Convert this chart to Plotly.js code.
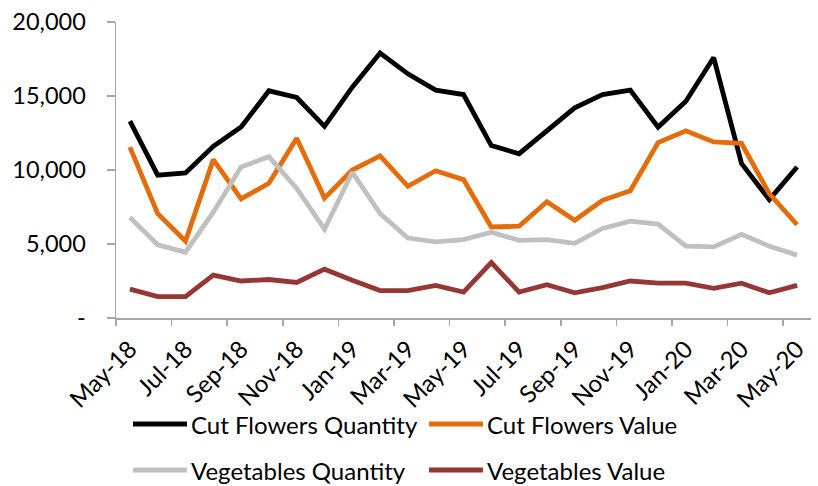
<!DOCTYPE html>
<html>
<head>
<meta charset="utf-8">
<script src="https://cdn.plot.ly/plotly-3.0.1.min.js"></script>
<style>html,body{margin:0;padding:0;background:#fff}#chart{width:818px;height:486px}</style>
</head>
<body>
<div id="chart"></div>
<script>
const months = ["May-18","Jun-18","Jul-18","Aug-18","Sep-18","Oct-18","Nov-18","Dec-18",
  "Jan-19","Feb-19","Mar-19","Apr-19","May-19","Jun-19","Jul-19","Aug-19","Sep-19","Oct-19",
  "Nov-19","Dec-19","Jan-20","Feb-20","Mar-20","Apr-20","May-20"];
const cutFlowersQuantity = [13300,9650,9800,11600,12900,15350,14900,12950,15600,17900,16500,15400,
  15100,11650,11100,12700,14200,15100,15400,12900,14650,17600,10450,8000,10200];
const cutFlowersValue = [11550,7050,5200,10700,8050,9100,12150,8100,10000,10950,8900,9950,
  9350,6150,6200,7850,6600,7950,8600,11850,12650,11900,11800,8400,6300];
const vegetablesQuantity = [6800,4950,4450,7150,10200,10900,8750,6000,9850,7050,5400,5150,
  5300,5800,5250,5300,5050,6050,6550,6350,4850,4800,5650,4850,4250];
const vegetablesValue = [1950,1450,1450,2900,2500,2600,2400,3300,2550,1850,1850,2200,
  1750,3750,1750,2250,1700,2050,2500,2350,2350,2000,2350,1700,2200];
const yTickVals = [0,5000,10000,15000,20000];
const yTickText = ["-","5,000","10,000","15,000","20,000"];
const seriesNames = ["Cut Flowers Quantity","Cut Flowers Value","Vegetables Quantity","Vegetables Value"];
const seriesColors = ["#000000","#E46C0A","#C0C0C0","#953735"];

const FONT = "Lato, 'Open Sans', sans-serif";
const allSeries = [cutFlowersQuantity, cutFlowersValue, vegetablesQuantity, vegetablesValue];
const traces = allSeries.map((ys, i) => ({
  type: "scatter", mode: "lines", x: months, y: ys, name: seriesNames[i],
  line: {color: seriesColors[i], width: 4.8}, showlegend: false, hoverinfo: "skip"
}));

// custom legend (positions in paper coords)
const L = 116, W = 695, T = 22, H = 296;
const px = v => (v - L) / W;
const py = v => (T + H - v) / H;
const legendPos = [[133, 424], [429, 424], [133, 470], [429, 470]];
const shapes = [], annotations = [];
legendPos.forEach((p, i) => {
  shapes.push({type: "line", xref: "paper", yref: "paper",
    x0: px(p[0]), x1: px(p[0] + 54), y0: py(p[1]), y1: py(p[1]),
    line: {color: seriesColors[i], width: 5}});
  annotations.push({xref: "paper", yref: "paper", x: px(p[0] + 56), y: py(p[1]),
    xanchor: "left", yanchor: "middle", showarrow: false, text: seriesNames[i],
    font: {family: FONT, size: 24, color: "#000"}});
});

const layout = {
  width: 818, height: 486,
  margin: {l: L, r: 818 - L - W, t: T, b: 486 - T - H},
  paper_bgcolor: "#fff", plot_bgcolor: "#fff",
  font: {family: FONT, size: 23.5, color: "#000"},
  xaxis: {type: "category", tickmode: "linear", dtick: 2, tick0: 0, tickson: "boundaries",
    tickangle: -45, ticks: "outside", ticklen: 6, tickcolor: "#A6A6A6", tickwidth: 1.5,
    showline: true, linecolor: "#A6A6A6", linewidth: 1.5, showgrid: false, zeroline: false,
    ticklabelstandoff: 6,
    range: [-0.5, 24.5], tickfont: {family: FONT, size: 24, color: "#000"}},
  yaxis: {range: [0, 20000], tickmode: "array", tickvals: yTickVals, ticktext: yTickText,
    ticks: "outside", ticklen: 8, tickcolor: "#A6A6A6", tickwidth: 1.5,
    showline: true, linecolor: "#A6A6A6", linewidth: 1.5, showgrid: false, zeroline: false,
    ticklabelstandoff: 16, tickfont: {family: FONT, size: 23.5, color: "#000"}},
  shapes: shapes, annotations: annotations
};
Plotly.newPlot("chart", traces, layout, {staticPlot: true});
</script>
</body>
</html>
